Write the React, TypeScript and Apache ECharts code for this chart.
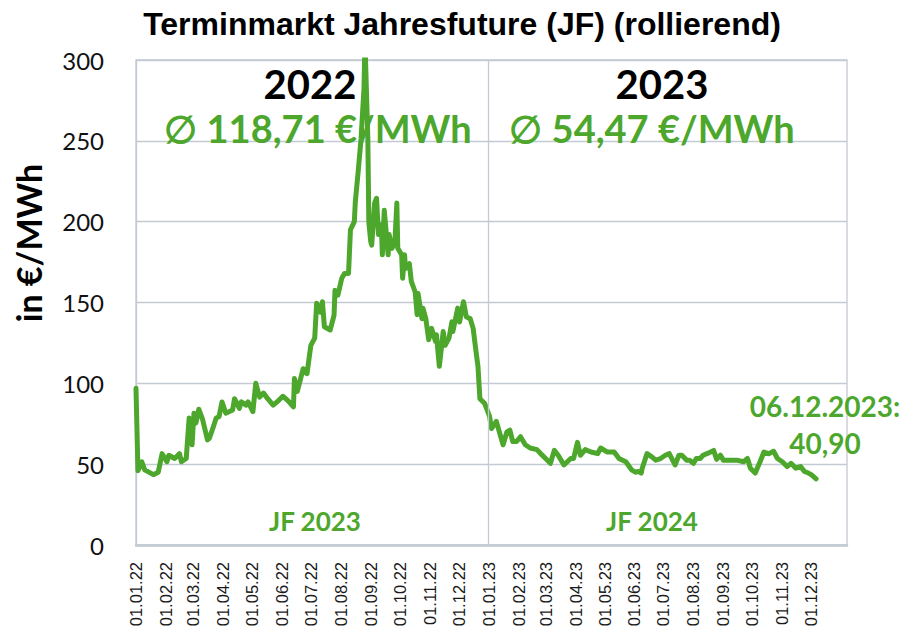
import React, { useEffect, useRef } from "react";
import * as echarts from "echarts";

const dates: string[] = [
  "2022-01-01","2022-01-03","2022-01-07","2022-01-10","2022-01-19","2022-01-24","2022-01-28",
  "2022-02-02","2022-02-04","2022-02-10","2022-02-15","2022-02-17","2022-02-22","2022-02-25","2022-02-28",
  "2022-03-02","2022-03-04","2022-03-07","2022-03-11","2022-03-16","2022-03-18","2022-03-22","2022-03-25","2022-03-28","2022-03-31",
  "2022-04-04","2022-04-11","2022-04-13","2022-04-18","2022-04-20","2022-04-25","2022-04-27",
  "2022-05-02","2022-05-05","2022-05-09","2022-05-13","2022-05-16","2022-05-23","2022-05-27",
  "2022-06-02","2022-06-07","2022-06-13","2022-06-14","2022-06-17","2022-06-23","2022-06-27",
  "2022-07-01","2022-07-05","2022-07-07","2022-07-11","2022-07-13","2022-07-15","2022-07-21","2022-07-25","2022-07-26","2022-07-29",
  "2022-08-02","2022-08-05","2022-08-09","2022-08-11","2022-08-15","2022-08-16","2022-08-19","2022-08-22","2022-08-25","2022-08-26","2022-08-29","2022-08-30",
  "2022-09-01","2022-09-02","2022-09-05","2022-09-07","2022-09-09","2022-09-12","2022-09-13","2022-09-15","2022-09-19","2022-09-20","2022-09-23","2022-09-26","2022-09-28","2022-09-29",
  "2022-10-03","2022-10-04","2022-10-06","2022-10-07","2022-10-11","2022-10-13","2022-10-17","2022-10-19","2022-10-20","2022-10-24","2022-10-25","2022-10-28","2022-10-31",
  "2022-11-03","2022-11-07","2022-11-08","2022-11-11","2022-11-15","2022-11-17","2022-11-21","2022-11-24","2022-11-25","2022-11-30",
  "2022-12-02","2022-12-06","2022-12-09","2022-12-13","2022-12-16","2022-12-19","2022-12-21","2022-12-23","2022-12-28",
  "2023-01-02","2023-01-04","2023-01-09","2023-01-16","2023-01-20","2023-01-23","2023-01-26","2023-01-30",
  "2023-02-03","2023-02-08","2023-02-13","2023-02-20","2023-02-24",
  "2023-03-06","2023-03-10","2023-03-14","2023-03-20","2023-03-27","2023-03-30",
  "2023-04-03","2023-04-06","2023-04-11","2023-04-17","2023-04-24","2023-04-27",
  "2023-05-04","2023-05-11","2023-05-16","2023-05-23","2023-05-29",
  "2023-06-02","2023-06-05","2023-06-08","2023-06-09","2023-06-14","2023-06-19","2023-06-23","2023-06-28",
  "2023-07-03","2023-07-07","2023-07-13","2023-07-17","2023-07-20","2023-07-25","2023-07-28",
  "2023-08-01","2023-08-04","2023-08-08","2023-08-11","2023-08-15","2023-08-22","2023-08-25","2023-08-29",
  "2023-09-01","2023-09-07","2023-09-15","2023-09-22","2023-09-26","2023-09-29",
  "2023-10-04","2023-10-09","2023-10-13","2023-10-18","2023-10-23","2023-10-27",
  "2023-11-01","2023-11-06","2023-11-10","2023-11-15","2023-11-20","2023-11-24","2023-11-28","2023-12-01","2023-12-06",
];

const prices: number[] = [
  97, 46, 51.5, 46.5, 43.5, 45, 56.5,
  51.5, 55.5, 53.5, 56.5, 51.5, 53.5, 78.5, 62,
  81.5, 75.5, 84, 77.5, 65, 66, 73, 78.5, 79.5, 88.5,
  81.5, 83.5, 90.5, 84.5, 88.5, 86.5, 88.5,
  82.5, 100, 91.5, 94, 91.5, 86.5, 88.5,
  92, 89.5, 85.5, 103, 95, 109, 106,
  123.5, 128, 149.5, 144, 150.5, 135, 133, 142, 157.5, 154.5,
  165, 168, 168, 195, 200, 212, 231, 251.5, 282.5, 312, 251.5, 200,
  187.5, 185.5, 211.5, 214.5, 192, 198, 179.5, 207, 179.5, 192, 183.5, 187.5, 211.5, 183.5,
  179.5, 165, 179.5, 171, 174, 163, 156.5, 142.5, 155.5, 140, 146.5, 140, 127,
  134, 126, 130, 110.5, 132, 123.5, 128, 138, 132, 146.5,
  138, 150.5, 141, 140, 134, 119.5, 110.5, 90.5, 87.5,
  79.5, 72, 76.5, 62, 70, 71, 64, 64,
  67, 62, 60, 59, 56.5,
  50.5, 58.5, 55.5, 49.5, 53.5, 53.5,
  63.5, 55.5, 59, 57.5, 56.5, 60,
  57.5, 57.5, 53.5, 51.5, 46.5,
  45, 45.5, 44.5, 47.5, 56.5, 54.5, 52.5, 53.5,
  55.5, 56.5, 49.5, 55.5, 55.5, 52.5, 52.5,
  50.5, 53.5, 53.5, 55.5, 56.5, 58.5, 53, 55.5,
  52.5, 52.5, 52.5, 51.5, 53.5, 47.5,
  44.5, 51.5, 57.5, 56.5, 58, 53.5,
  51.5, 48.5, 50.5, 47.5, 48.5, 45.5, 44.5, 43.5, 40.9,
];

const tickDates: string[] = [
  "2022-01-01","2022-02-01","2022-03-01","2022-04-01","2022-05-01","2022-06-01",
  "2022-07-01","2022-08-01","2022-09-01","2022-10-01","2022-11-01","2022-12-01",
  "2023-01-01","2023-02-01","2023-03-01","2023-04-01","2023-05-01","2023-06-01",
  "2023-07-01","2023-08-01","2023-09-01","2023-10-01","2023-11-01","2023-12-01",
];

const yearLabels: string[] = ["2022", "2023"];
const yearAverages: number[] = [118.71, 54.47];
const contractLabels: string[] = ["JF 2023", "JF 2024"];
const lastDate = "06.12.2023";
const lastValue = 40.9;

const GREEN = "#4ca72c";
const GRIDC = "#c3cad3";
const CAL = "Lato, 'Open Sans', sans-serif";

function toTs(s: string): number {
  const [y, m, d] = s.split("-").map(Number);
  return Date.UTC(y, m - 1, d);
}
function fmtDate(ts: number): string {
  const d = new Date(ts);
  const dd = String(d.getUTCDate()).padStart(2, "0");
  const mm = String(d.getUTCMonth() + 1).padStart(2, "0");
  const yy = String(d.getUTCFullYear() % 100).padStart(2, "0");
  return `${dd}.${mm}.${yy}`;
}
function fmtDe(v: number): string {
  return v.toFixed(2).replace(".", ",");
}

export default function App() {
  const ref = useRef<HTMLDivElement>(null);
  useEffect(() => {
    if (!ref.current) return;
    const chart = echarts.init(ref.current, null, { renderer: "svg" });
    const seriesData = dates.map((d, i) => [toTs(d), prices[i]]);
    const tickTs = tickDates.map(toTs);
    const txt = (x: number, y: number, text: string, size: number, color: string, font = CAL, extra: any = {}) => ({
      type: "text",
      x,
      y,
      z: 10,
      silent: true,
      ...extra,
      style: {
        text,
        fill: color,
        font: `bold ${size}px ${font}`,
        align: "center",
        verticalAlign: "middle",
      },
    });
    chart.setOption({
      animation: false,
      backgroundColor: "#ffffff",
      grid: {
        left: 136,
        right: 60,
        top: 60,
        bottom: 90,
        show: true,
        borderColor: GRIDC,
        borderWidth: 1.3,
        backgroundColor: "transparent",
      },
      xAxis: {
        type: "value",
        min: toTs("2022-01-01"),
        max: toTs("2024-01-07"),
        axisLine: { show: true, lineStyle: { color: GRIDC, width: 2.5 } },
        axisTick: { show: false },
        splitLine: { show: false },
        axisLabel: {
          customValues: tickTs,
          rotate: 90,
          margin: 17,
          fontSize: 16.5,
          fontFamily: "'Liberation Sans', Arial, sans-serif",
          color: "#1a1a1a",
          formatter: (v: number) => fmtDate(v),
          hideOverlap: false,
        },
      },
      yAxis: {
        type: "value",
        min: 0,
        max: 300,
        interval: 50,
        axisLine: { show: true, lineStyle: { color: GRIDC, width: 1.3 } },
        axisTick: { show: false },
        splitLine: { show: true, lineStyle: { color: GRIDC, width: 1.3 } },
        axisLabel: {
          margin: 32,
          fontSize: 24,
          fontFamily: CAL,
          color: "#111",
        },
      },
      series: [
        {
          type: "line",
          data: seriesData,
          showSymbol: false,
          symbol: "none",
          clip: true,
          lineStyle: { color: GREEN, width: 5, join: "round", cap: "round" },
          markLine: {
            silent: true,
            symbol: ["none", "none"],
            label: { show: false },
            lineStyle: { color: GRIDC, width: 1.3, type: "solid" },
            data: [{ xAxis: toTs("2023-01-01") }],
          },
        },
      ],
      graphic: [
        txt(462, 24, "Terminmarkt Jahresfuture (JF) (rollierend)", 32, "#000", "'Liberation Sans', Arial, sans-serif"),
        txt(28, 243, "in €/MWh", 34, "#000", CAL, { rotation: Math.PI / 2 }),
        txt(310, 84, yearLabels[0], 40, "#000"),
        txt(662, 84, yearLabels[1], 40, "#000"),
        txt(318, 128, `∅ ${fmtDe(yearAverages[0])} €/MWh`, 38, GREEN),
        txt(652, 128, `∅ ${fmtDe(yearAverages[1])} €/MWh`, 38, GREEN),
        txt(315, 521, contractLabels[0], 26, GREEN),
        txt(652, 521, contractLabels[1], 26, GREEN),
        txt(825, 406, `${lastDate}:`, 28, GREEN),
        txt(825, 443, fmtDe(lastValue), 28, GREEN),
      ],
    });
    return () => chart.dispose();
  }, []);
  return (
    <div
      ref={ref}
      style={{ position: "fixed", left: 0, top: 0, width: 907, height: 635, background: "#fff" }}
    />
  );
}
